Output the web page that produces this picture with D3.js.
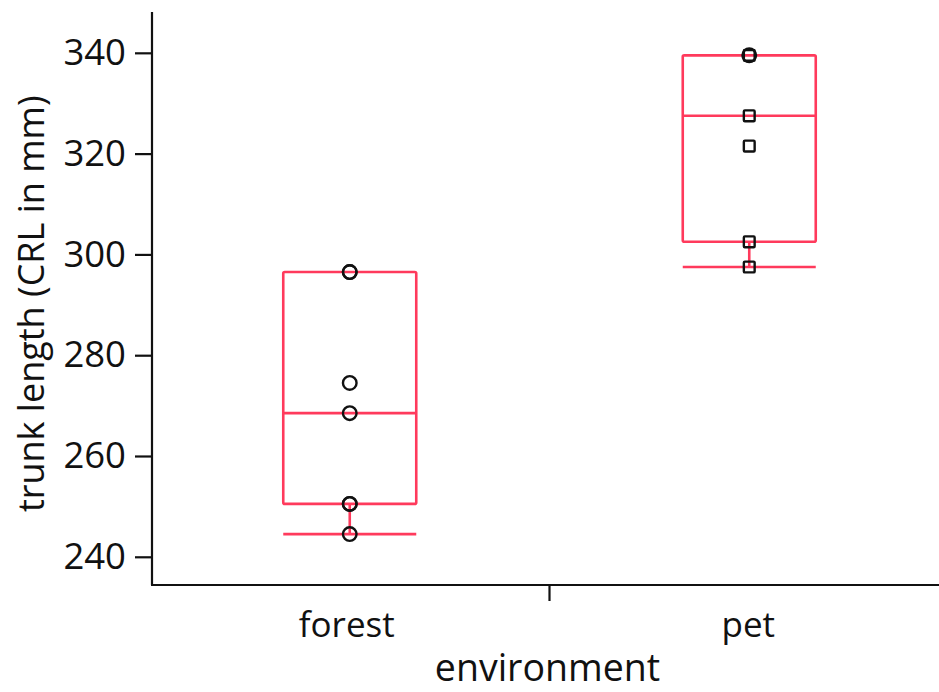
<!DOCTYPE html>
<html>
<head>
<meta charset="utf-8">
<script src="https://cdn.jsdelivr.net/npm/d3@7"></script>
<style>
  html, body { margin: 0; padding: 0; background: #fff; }
  svg { display: block; }
  text { font-family: "Open Sans", "DejaVu Sans", sans-serif; fill: #111; }
</style>
</head>
<body>
<div id="chart"></div>
<script>
// Trunk length (CRL, mm) by environment
const categories = ["forest", "pet"];

// individual measurements per group, with marker shape
const forestValues = [296.5, 296.5, 274.5, 268.5, 250.5, 250.5, 244.5];
const forestShapes = ["circle", "circle", "circle", "circle", "circle", "circle", "circle"];
const petValues = [339.5, 339.5, 327.5, 321.5, 302.5, 297.5];
const petShapes = ["circle", "square", "square", "square", "square", "square"];

// box summary per group: [lower whisker, Q1, median, Q3, upper whisker]
const forestBox = [244.5, 250.5, 268.5, 296.5, 296.5];
const petBox = [297.5, 302.5, 327.5, 339.5, 339.5];

const yTicks = [240, 260, 280, 300, 320, 340];
const yDomain = [234.8, 348.1];

const groups = [
  { name: categories[0], values: forestValues, shapes: forestShapes, box: forestBox },
  { name: categories[1], values: petValues, shapes: petShapes, box: petBox }
];

const W = 939, H = 692;
const axisX = 152, axisY = 585;

const svg = d3.select("#chart").append("svg")
  .attr("width", W).attr("height", H);

const y = d3.scaleLinear().domain(yDomain).range([axisY - 2, 12]);
const x = d3.scaleBand().domain(categories).range([axisX - 2, 949]);

const boxColor = "#ff3a5c";
const boxHalf = 66.5;

// y axis
const yAxis = svg.append("g").attr("transform", `translate(${axisX},0)`)
  .call(d3.axisLeft(y).tickValues(yTicks).tickSize(17).tickPadding(9).tickFormat(d3.format("d")));
yAxis.select(".domain").attr("d", `M0,${y.range()[1]}V${axisY}`).attr("stroke", "#111").attr("stroke-width", 2.2);
yAxis.selectAll(".tick line").attr("stroke", "#111").attr("stroke-width", 2.2);
yAxis.selectAll(".tick text").style("font-size", "36.5px").attr("fill", "#111")
  .style("font-family", "'Open Sans', 'DejaVu Sans', sans-serif");

// x axis: line with a single divider tick between the groups
const xAxis = svg.append("g").attr("transform", `translate(0,${axisY})`);
xAxis.append("line").attr("x1", axisX - 1).attr("x2", W).attr("y1", 0).attr("y2", 0)
  .attr("stroke", "#111").attr("stroke-width", 2.2);
xAxis.append("line")
  .attr("x1", x(categories[1])).attr("x2", x(categories[1]))
  .attr("y1", 0).attr("y2", 16).attr("stroke", "#111").attr("stroke-width", 2.2);
xAxis.selectAll("text.cat").data(categories).join("text")
  .attr("class", "cat")
  .attr("x", (d, i) => x(d) + x.bandwidth() / 2 - (i === 0 ? 3 : 1))
  .attr("y", 52)
  .attr("text-anchor", "middle")
  .style("font-size", "35px")
  .text(d => d);

// axis titles
svg.append("text")
  .attr("x", x(categories[1]) - 2)
  .attr("y", 681)
  .attr("text-anchor", "middle")
  .style("font-size", "37.5px")
  .text("environment");

svg.append("text")
  .attr("transform", `translate(44,${(y(340) + y(240)) / 2 - 1}) rotate(-90)`)
  .attr("text-anchor", "middle")
  .style("font-size", "36px")
  .text("trunk length (CRL in mm)");

// boxes
const g = svg.append("g");
groups.forEach(grp => {
  const cx = x(grp.name) + x.bandwidth() / 2;
  const [lo, q1, med, q3, hi] = grp.box;
  const box = g.append("g")
    .attr("fill", "none").attr("stroke", boxColor).attr("stroke-width", 2.6)
    .attr("stroke-linejoin", "round");
  box.append("rect")
    .attr("x", cx - boxHalf).attr("width", boxHalf * 2)
    .attr("y", y(q3)).attr("height", y(q1) - y(q3))
    .attr("rx", 1.5);
  box.append("line").attr("x1", cx - boxHalf).attr("x2", cx + boxHalf)
    .attr("y1", y(med)).attr("y2", y(med));
  // whiskers
  box.append("line").attr("x1", cx).attr("x2", cx).attr("y1", y(q1)).attr("y2", y(lo));
  box.append("line").attr("x1", cx - boxHalf).attr("x2", cx + boxHalf)
    .attr("y1", y(lo)).attr("y2", y(lo));
  if (hi > q3) {
    box.append("line").attr("x1", cx).attr("x2", cx).attr("y1", y(q3)).attr("y2", y(hi));
    box.append("line").attr("x1", cx - boxHalf).attr("x2", cx + boxHalf)
      .attr("y1", y(hi)).attr("y2", y(hi));
  }

  // points
  const pts = grp.values.map((v, i) => ({ v, s: grp.shapes[i] }));
  const pg = g.append("g").attr("fill", "none").attr("stroke", "#111").attr("stroke-width", 2.4);
  pg.selectAll("circle").data(pts.filter(p => p.s === "circle")).join("circle")
    .attr("cx", cx).attr("cy", p => y(p.v)).attr("r", 6.8);
  pg.selectAll("rect").data(pts.filter(p => p.s === "square")).join("rect")
    .attr("x", cx - 5.4).attr("y", p => y(p.v) - 5.4)
    .attr("width", 10.8).attr("height", 10.8).attr("rx", 1);
});
</script>
</body>
</html>
